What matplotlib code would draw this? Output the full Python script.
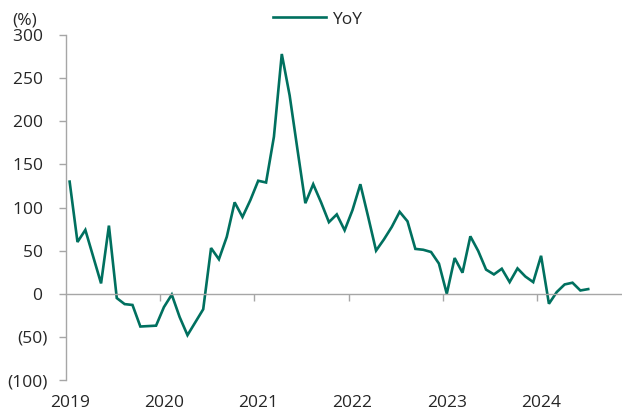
import matplotlib.pyplot as plt
from matplotlib.ticker import FuncFormatter, FixedLocator

plt.rcParams['font.family'] = ['Open Sans', 'DejaVu Sans']

# Monthly YoY growth (%), Jan 2019 - Jul 2024
years = ['2019', '2020', '2021', '2022', '2023', '2024']
yoy = [
    130, 60, 74, 43, 12, 79, -5, -12, -13, -38, -37.5, -37,          # 2019
    -15.5, -1, -27, -48, -33, -18, 53, 40, 66, 106, 89, 108.5,       # 2020
    131, 129, 182, 278, 230, 167, 105, 127, 106, 83, 92, 73.6,       # 2021
    97, 127, 89, 50, 63, 77.5, 95, 84, 52, 51, 48.4, 35,             # 2022
    0, 41.4, 24.4, 66.6, 49.6, 28, 22.4, 29, 13.5, 29.4, 20, 13.5,   # 2023
    44, -11.6, 2, 10.8, 12.8, 3.8, 5.4,                              # 2024
]

line_color = '#00705F'
axis_color = '#A6A6A6'
text_color = '#262626'

fig = plt.figure(figsize=(6.22, 4.15), dpi=100)
ax = fig.add_axes([65.7 / 622, (415 - 380) / 415, 1 - 65.7 / 622, 345 / 415])

x = list(range(len(yoy)))
ax.plot(x, yoy, color=line_color, lw=1.9, label='YoY', solid_joinstyle='miter')

ax.set_xlim(-0.5, 70.3)
ax.set_ylim(-100, 300)

# y axis
ax.set_yticks(range(-100, 301, 50))
ax.yaxis.set_major_formatter(FuncFormatter(lambda v, p: f'({abs(int(v))})' if v < 0 else f'{int(v)} '))
ax.tick_params(axis='y', direction='out', length=5, width=1, color=axis_color,
               labelsize=12.5, labelcolor=text_color, pad=8)

# x axis drawn at zero, ticks at year boundaries
ax.spines['bottom'].set_position(('data', 0))
ax.xaxis.set_major_locator(FixedLocator([-0.5 + 12 * k for k in range(1, 6)]))
ax.tick_params(axis='x', direction='out', length=5, width=1, color=axis_color, labelbottom=False)

for s in ['top', 'right']:
    ax.spines[s].set_visible(False)
for s in ['left', 'bottom']:
    ax.spines[s].set_color(axis_color)
    ax.spines[s].set_linewidth(1)

# year labels under the plot
sec = ax.secondary_xaxis('bottom')
sec.set_xticks([12 * k for k in range(len(years))])
sec.set_xticklabels(years)
sec.tick_params(length=0, labelsize=12.5, labelcolor=text_color, pad=10.5)
sec.spines['bottom'].set_visible(False)

fig.text(12 / 622, 1 - 20.5 / 415, '(%)', fontsize=12.5, color=text_color, va='center', ha='left')

fig.legend(loc='center', bbox_to_anchor=(318 / 622, 1 - 19.5 / 415), frameon=False,
           fontsize=12.5, handlelength=3.05, handletextpad=0.35, labelcolor=text_color)

fig.savefig('out.png', dpi=100)
